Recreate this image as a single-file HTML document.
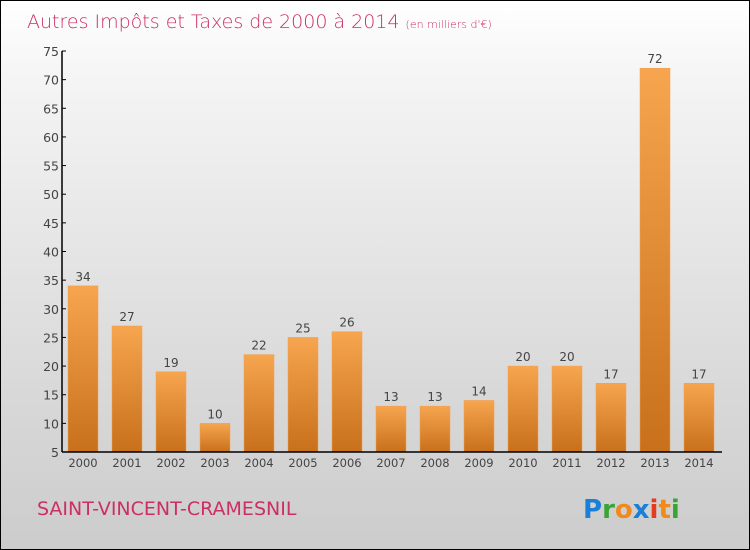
<!DOCTYPE html>
<html><head><meta charset="utf-8"><style>
body{margin:0}
#wrap{position:relative;width:748px;height:548px;border:1px solid #000;background:linear-gradient(#fff,#f4f4f4 15%,#d9d9d9 70%,#cccccc);font-family:"DejaVu Sans","Liberation Sans",sans-serif;overflow:hidden}
</style></head><body>
<div id="wrap">
<svg id="chart" width="748" height="548">
<defs><linearGradient id="bg" x1="0" y1="0" x2="0" y2="1"><stop offset="0" stop-color="#f7a54f"/><stop offset="1" stop-color="#c8701c"/></linearGradient></defs>
<text x="26" y="27" font-size="19" fill="#cc2f62" font-family="DejaVu Sans,sans-serif" font-weight="200">Autres Impôts et Taxes de 2000 à 2014 <tspan font-size="11">(en milliers d'€)</tspan></text>
<g id="marks"></g>
<text x="36" y="514" font-size="19" fill="#cc2f62">SAINT-VINCENT-CRAMESNIL</text>
<text x="582" y="517" font-size="26" font-weight="bold"><tspan fill="#1a7fd6">P</tspan><tspan fill="#3aa435">r</tspan><tspan fill="#f08a1c">o</tspan><tspan fill="#1a7fd6">x</tspan><tspan fill="#e63a1c">i</tspan><tspan fill="#f08a1c">t</tspan><tspan fill="#3aa435">i</tspan></text>
</svg></div>
<script>
const categories=["2000","2001","2002","2003","2004","2005","2006","2007","2008","2009","2010","2011","2012","2013","2014"];
const values=[34,27,19,10,22,25,26,13,13,14,20,20,17,72,17];
const yTicks=[5,10,15,20,25,30,35,40,45,50,55,60,65,70,75];
const X0=61,X1=721,Y0=451,Y1=50,YMIN=5,YMAX=75;
const slot=(X1-X0)/categories.length;
const y=v=>Y0-(v-YMIN)*(Y0-Y1)/(YMAX-YMIN);
const x=i=>X0+i*slot;
const g=document.getElementById('marks');const NS="http://www.w3.org/2000/svg";
function mk(t,a,txt){const e=document.createElementNS(NS,t);for(const k in a)e.setAttribute(k,a[k]);if(txt!=null)e.textContent=txt;g.appendChild(e);return e;}
values.forEach((v,i)=>{
 const r=mk('rect',{x:x(i)+6,y:y(v),width:30,height:Y0-y(v),fill:'url(#bg)',stroke:'#f0a050','stroke-width':0.5});
 
 
 const t=mk('text',{x:x(i)+21,y:y(v)-5,'font-size':12,fill:'#444','text-anchor':'middle'},String(v));
 
 
 const c=mk('text',{x:x(i)+21,y:Y0+15,'font-size':11.5,fill:'#444','text-anchor':'middle'},categories[i]);
 
 
});
yTicks.forEach(v=>{
 const l=mk('line',{x1:X0,x2:X0+4,y1:y(v),y2:y(v),stroke:'#000'});
 
 
 const t=mk('text',{x:X0-3,y:y(v)+5,'font-size':12.5,fill:'#444','text-anchor':'end'},String(v));
 
 
});
const ya=mk('line',{x1:X0,x2:X0,y1:Y1,y2:Y0,stroke:'#000','stroke-width':1.5});


const xa=mk('line',{x1:X0,x2:X1,y1:Y0,y2:Y0,stroke:'#000','stroke-width':1.5});


</script>
</body></html>
